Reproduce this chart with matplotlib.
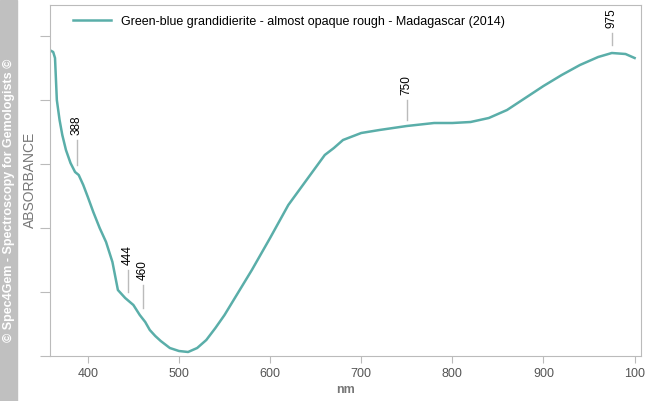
import matplotlib
matplotlib.use("Agg")
import matplotlib.pyplot as plt
import numpy as np

plt.rcParams['font.family'] = 'Liberation Sans'

wl = [358,362,364,366,369,372,376,381,386,390,395,400,406,413,420,427,433,441,450,457,463,468,474,480,490,500,510,520,530,540,550,560,580,600,620,640,660,670,680,700,720,750,780,800,820,840,860,880,900,920,940,960,975,990,1000]
ypx = [50,52,58,100,120,135,150,163,172,175,185,197,212,228,242,262,290,298,305,315,322,330,336,341,348,351,352,348,340,328,315,300,270,238,205,180,155,148,140,133,130,126,123,123,122,118,110,98,86,75,65,57,53,54,58]
absorb = [(356 - v) / 64 for v in ypx]
peaks = [388, 444, 460, 750, 975]
peak_line = [(140,165),(270,292),(285,308),(100,120),(33,45)]

W, H = 646, 401
fig = plt.figure(figsize=(W/100, H/100), dpi=100)
ax = fig.add_axes([50/W, 1-356/H, (641-50)/W, (356-4.5)/H])
ax.set_xlim(358.5, 1007)
ax.set_ylim(0, (356-4.5)/64)
ax.plot(wl, absorb, color='#5aaea9', lw=1.8)
for p, (y0, y1) in zip(peaks, peak_line):
    ax.plot([p, p], [(356-y1)/64, (356-y0)/64], color='#bbbbbb', lw=1)
    ax.text(p, (356-y0)/64 + 5/64, str(p), rotation=90, ha='center', va='bottom', fontsize=8.5)
ax.set_xticks([400,500,600,700,800,900,1000])
ax.set_xticklabels(['400','500','600','700','800','900','100'])
ax.set_yticks([0,1,2,3,4,5])
ax.set_yticklabels([])
for s in ax.spines.values():
    s.set_color('#bbbbbb')
ax.tick_params(colors='#bbbbbb', labelcolor='#555555', labelsize=9, length=7)
ax.tick_params(axis='x', length=5)
ax.set_xlabel('nm', color='#777777', fontweight='bold', fontsize=9, labelpad=3)
ax.legend(['Green-blue grandidierite - almost opaque rough - Madagascar (2014)'], loc='upper left',
          frameon=False, fontsize=9, handlelength=3, bbox_to_anchor=(0.02, 1.0))
fig.patches.append(plt.Rectangle((0, 0), 17/W, 1, transform=fig.transFigure, color='#c0c0c0'))
fig.text(9/W, 0.5, '© Spec4Gem - Spectroscopy for Gemologists ©', rotation=90, color='white',
         fontsize=9, fontweight='bold', ha='center', va='center')
fig.text(30/W, 1-180/H, 'ABSORBANCE', rotation=90, color='#777777', fontsize=10,
         ha='center', va='center')
fig.savefig('out.png', dpi=100)
